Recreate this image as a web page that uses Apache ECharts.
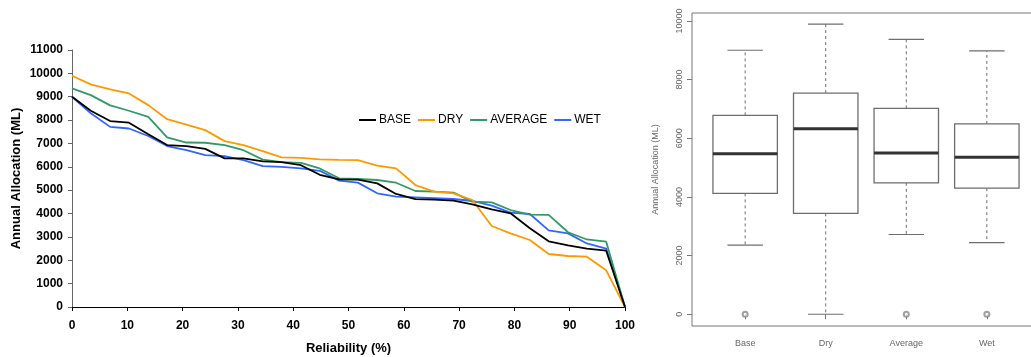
<!DOCTYPE html>
<html><head><meta charset="utf-8">
<script src="https://cdn.jsdelivr.net/npm/echarts@6/dist/echarts.min.js"></script>
<style>html,body{margin:0;padding:0;background:#fff}#c{width:1031px;height:357px}</style>
</head><body><div id="c"></div>
<script>
// ---- Left panel: reliability curves ----
const reliability = [0, 3.4, 6.9, 10.3, 13.8, 17.2, 20.7, 24.1, 27.6, 31.0, 34.5, 37.9, 41.4, 44.8, 48.3, 51.7, 55.2, 58.6, 62.1, 65.5, 69.0, 72.4, 75.9, 79.3, 82.8, 86.2, 89.7, 93.1, 96.6, 100];
const base    = [9000, 8400, 7960, 7890, 7390, 6930, 6890, 6770, 6360, 6360, 6230, 6200, 6070, 5660, 5460, 5450, 5290, 4840, 4620, 4600, 4550, 4390, 4180, 4010, 3370, 2810, 2640, 2500, 2410, 0];
const dry     = [9900, 9530, 9310, 9140, 8640, 8040, 7810, 7570, 7100, 6930, 6670, 6400, 6380, 6320, 6300, 6290, 6050, 5935, 5220, 4936, 4866, 4580, 3467, 3153, 2868, 2268, 2183, 2153, 1570, 0];
const average = [9360, 9070, 8630, 8400, 8140, 7260, 7040, 7030, 6930, 6710, 6310, 6200, 6170, 5930, 5508, 5478, 5436, 5320, 4965, 4936, 4893, 4508, 4480, 4150, 3950, 3940, 3200, 2890, 2796, 0];
const wet     = [9000, 8290, 7710, 7640, 7320, 6890, 6710, 6500, 6460, 6290, 6030, 6000, 5930, 5830, 5407, 5322, 4866, 4722, 4693, 4660, 4622, 4537, 4336, 4036, 3980, 3280, 3150, 2720, 2500, 0];
const seriesNames = ['BASE', 'DRY', 'AVERAGE', 'WET'];
const xTicks = [0, 10, 20, 30, 40, 50, 60, 70, 80, 90, 100];
const yTicks = [0, 1000, 2000, 3000, 4000, 5000, 6000, 7000, 8000, 9000, 10000, 11000];

// ---- Right panel: box plot statistics [low whisker, Q1, median, Q3, high whisker] ----
const boxCategories = ['Base', 'Dry', 'Average', 'Wet'];
const boxPositions = [1, 2, 3, 4];
const boxStats = [
  [2360, 4120, 5470, 6780, 9000],
  [0, 3440, 6320, 7540, 9890],
  [2720, 4480, 5500, 7020, 9370],
  [2440, 4300, 5350, 6490, 8980]
];
const outliers = [[1, 0], [3, 0], [4, 0]];
const boxYTicks = [0, 2000, 4000, 6000, 8000, 10000];

const FONT = "'Liberation Sans', Arial, sans-serif";
const colors = ['#000000', '#FF9900', '#339966', '#3366FF'];
const lineData = [base, dry, average, wet];

const chart = echarts.init(document.getElementById('c'), null, {renderer: 'canvas'});

function renderBox(params, api) {
  const x = api.value(0);
  const lo = api.coord([x, api.value(1)]);
  const q1 = api.coord([x, api.value(2)]);
  const med = api.coord([x, api.value(3)]);
  const q3 = api.coord([x, api.value(4)]);
  const hi = api.coord([x, api.value(5)]);
  const bw = api.size([0.8, 0])[0];
  const cw = api.size([0.44, 0])[0];
  const cx = lo[0];
  const stroke = '#6e6e6e';
  return {
    type: 'group',
    children: [
      {type: 'line', shape: {x1: cx, y1: q3[1], x2: cx, y2: hi[1]}, style: {stroke: stroke, lineWidth: 1, lineDash: [3, 3]}},
      {type: 'line', shape: {x1: cx, y1: q1[1], x2: cx, y2: lo[1]}, style: {stroke: stroke, lineWidth: 1, lineDash: [3, 3]}},
      {type: 'line', shape: {x1: cx - cw / 2, y1: hi[1], x2: cx + cw / 2, y2: hi[1]}, style: {stroke: stroke, lineWidth: 1.2}},
      {type: 'line', shape: {x1: cx - cw / 2, y1: lo[1], x2: cx + cw / 2, y2: lo[1]}, style: {stroke: stroke, lineWidth: 1.2}},
      {type: 'rect', shape: {x: cx - bw / 2, y: q3[1], width: bw, height: q1[1] - q3[1]}, style: {fill: '#fff', stroke: stroke, lineWidth: 1.3}},
      {type: 'line', shape: {x1: cx - bw / 2, y1: med[1], x2: cx + bw / 2, y2: med[1]}, style: {stroke: '#333', lineWidth: 3}}
    ]
  };
}

const plain = v => String(v);

const option = {
  animation: false,
  backgroundColor: '#fff',
  textStyle: {fontFamily: FONT},
  legend: {
    data: seriesNames,
    left: 354, top: 109,
    itemWidth: 17, itemHeight: 2, itemGap: 7,
    icon: 'rect',
    textStyle: {fontFamily: FONT, fontSize: 12, color: '#000', padding: [0, 0, 0, -2]}
  },
  grid: [
    {left: 72, top: 50, width: 553, height: 257, outerBoundsMode: 'none', containLabel: false},
    {left: 692, top: 13, width: 348, height: 313, outerBoundsMode: 'none', containLabel: false,
      show: true, borderColor: '#777', borderWidth: 1, backgroundColor: 'transparent'}
  ],
  xAxis: [
    {
      gridIndex: 0, type: 'value', min: 0, max: 100, interval: 10,
      name: 'Reliability (%)', nameLocation: 'middle', nameGap: 35, nameMoveOverlap: false,
      nameTextStyle: {fontFamily: FONT, fontSize: 13, fontWeight: 'bold', color: '#000'},
      axisLine: {show: true, lineStyle: {color: '#000', width: 1}},
      axisTick: {show: true, length: 4, lineStyle: {color: '#000'}},
      axisLabel: {fontFamily: FONT, fontSize: 12, fontWeight: 'bold', color: '#000', margin: 13,
        customValues: xTicks, formatter: plain},
      splitLine: {show: false}
    },
    {
      gridIndex: 1, type: 'value', min: 0.34, max: 4.66,
      axisLine: {show: false},
      axisTick: {show: true, length: 5, customValues: boxPositions, lineStyle: {color: '#777'}},
      axisLabel: {customValues: boxPositions, fontFamily: FONT, fontSize: 9, color: '#666', margin: 13,
        formatter: v => boxCategories[boxPositions.indexOf(Math.round(v))]},
      splitLine: {show: false}
    }
  ],
  yAxis: [
    {
      gridIndex: 0, type: 'value', min: 0, max: 11000, interval: 1000,
      name: 'Annual Allocation (ML)', nameLocation: 'middle', nameGap: 49, nameMoveOverlap: false,
      nameTextStyle: {fontFamily: FONT, fontSize: 13, fontWeight: 'bold', color: '#000'},
      axisLine: {show: true, lineStyle: {color: '#666', width: 1}},
      axisTick: {show: true, length: 4, lineStyle: {color: '#666'}},
      axisLabel: {fontFamily: FONT, fontSize: 12, fontWeight: 'bold', color: '#000', margin: 9,
        customValues: yTicks, formatter: plain},
      splitLine: {show: false}
    },
    {
      gridIndex: 1, type: 'value', min: -400, max: 10270,
      name: 'Annual Allocation (ML)', nameLocation: 'middle', nameGap: 32, nameMoveOverlap: false,
      nameTextStyle: {fontFamily: FONT, fontSize: 9, color: '#666'},
      axisLine: {show: false},
      axisTick: {show: true, length: 5, customValues: boxYTicks, lineStyle: {color: '#777'}},
      axisLabel: {customValues: boxYTicks, rotate: 90, fontFamily: FONT, fontSize: 9, color: '#666', margin: 8,
        formatter: plain},
      splitLine: {show: false}
    }
  ],
  series: [
    ...seriesNames.map((n, k) => ({
      name: n, type: 'line', xAxisIndex: 0, yAxisIndex: 0,
      data: reliability.map((r, i) => [r, lineData[k][i]]),
      showSymbol: false, symbol: 'none',
      lineStyle: {color: colors[k], width: 1.8},
      itemStyle: {color: colors[k]},
      z: 10 - k
    })),
    {
      type: 'custom', xAxisIndex: 1, yAxisIndex: 1,
      renderItem: renderBox,
      data: boxStats.map((s, i) => [boxPositions[i], ...s]),
      encode: {x: 0, y: [1, 2, 3, 4, 5]},
      z: 5
    },
    {
      type: 'scatter', xAxisIndex: 1, yAxisIndex: 1,
      data: outliers, symbol: 'emptyCircle', symbolSize: 5,
      itemStyle: {color: '#888', borderColor: '#888', borderWidth: 1},
      z: 6
    }
  ]
};
chart.setOption(option);
</script>
</body></html>
